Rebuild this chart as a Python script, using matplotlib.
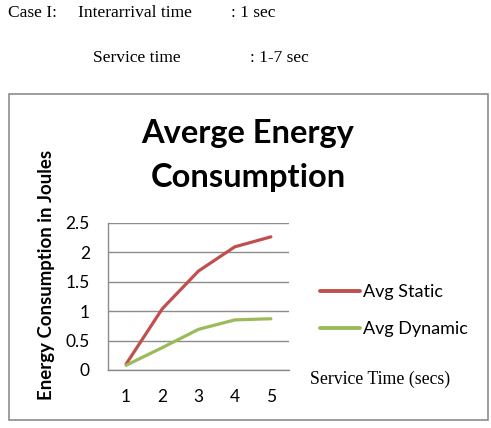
import matplotlib
matplotlib.use("Agg")
import matplotlib.pyplot as plt
from matplotlib.patches import Rectangle

# data
service_time = [1, 2, 3, 4, 5]
avg_static = [0.10, 1.04, 1.68, 2.09, 2.26]
avg_dynamic = [0.08, 0.38, 0.69, 0.85, 0.87]
y_ticks = [0, 0.5, 1, 1.5, 2, 2.5]
y_tick_labels = ["0", "0.5", "1", "1.5", "2", "2.5"]

W, H = 491, 428
fig = plt.figure(figsize=(W / 100, H / 100), dpi=100)

sans = ["Lato", "DejaVu Sans"]
serif = ["Liberation Serif", "DejaVu Serif"]

# header text above the chart
fig.text(8 / W, 1 - 13 / H, "Case I:", family=serif, fontsize=12.5, va="center")
fig.text(78 / W, 1 - 13 / H, "Interarrival time", family=serif, fontsize=12.5, va="center")
fig.text(231 / W, 1 - 13 / H, ": 1 sec", family=serif, fontsize=12.5, va="center")
fig.text(93 / W, 1 - 58 / H, "Service time", family=serif, fontsize=12.5, va="center")
fig.text(250 / W, 1 - 58 / H, ": 1-7 sec", family=serif, fontsize=12.5, va="center")

# chart border
fig.patches.append(Rectangle((9 / W, 1 - 420 / H), 479 / W, 326 / H,
                             transform=fig.transFigure, fill=False,
                             edgecolor="#8c8c8c", linewidth=1.2))

ax = fig.add_axes([108 / W, 58 / H, 181 / W, 147.3 / H])
ax.plot(service_time, avg_static, color="#C0504D", linewidth=2.3,
        label="Avg Static", solid_capstyle="round")
ax.plot(service_time, avg_dynamic, color="#9BBB59", linewidth=2.3,
        label="Avg Dynamic", solid_capstyle="round")

ax.set_xlim(0.5, 5.5)
ax.set_ylim(0, 2.5)
ax.set_yticks(y_ticks)
ax.set_yticklabels(y_tick_labels)
ax.set_xticks(service_time)
ax.tick_params(length=0, labelsize=12.5)
ax.tick_params(axis="y", pad=13)
ax.tick_params(axis="x", pad=14)
for lab in ax.get_xticklabels() + ax.get_yticklabels():
    lab.set_family(sans)
ax.grid(axis="y", color="#8c8c8c", linewidth=1)
ax.set_axisbelow(True)
for side in ["top", "right"]:
    ax.spines[side].set_visible(False)
for side in ["left", "bottom"]:
    ax.spines[side].set_color("#8c8c8c")
    ax.spines[side].set_linewidth(1)

fig.text(248 / W, 1 - 134 / H, "Averge Energy", family=sans, fontsize=23.5,
         fontweight="bold", ha="center", va="center")
fig.text(248 / W, 1 - 178 / H, "Consumption", family=sans, fontsize=23.5,
         fontweight="bold", ha="center", va="center")
fig.text(47 / W, 1 - 275 / H, "Energy Consumption in Joules", family=sans,
         fontsize=13.4, fontweight="bold", rotation=90, ha="center", va="center")
fig.text(310 / W, 1 - 379 / H, "Service Time (secs)", family=serif,
         fontsize=12.8, va="center")

leg = ax.legend(loc="center left", bbox_to_anchor=(320 / W, 1 - 310.5 / H),
                bbox_transform=fig.transFigure, frameon=False, borderaxespad=0,
                borderpad=0, handlelength=2.2, handletextpad=0.2, labelspacing=1.15,
                prop={"family": sans, "size": 13})
for line in leg.get_lines():
    line.set_linewidth(2.8)

plt.savefig("out.png", dpi=100)
